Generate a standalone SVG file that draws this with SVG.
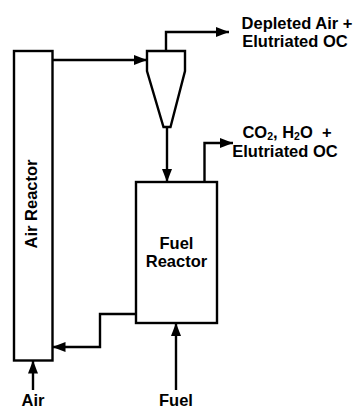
<svg xmlns="http://www.w3.org/2000/svg" width="360" height="408" viewBox="0 0 360 408">
<style>
.box{fill:#fff;stroke:#000;stroke-width:2.4;stroke-linejoin:miter}
.ln{fill:none;stroke:#000;stroke-width:2.4}
.t{font-family:"Liberation Sans",Arial,sans-serif;font-weight:bold;font-size:16.5px;fill:#000;text-anchor:middle}
.sub{font-size:10.5px}
</style>
<defs>
<marker id="ah" markerUnits="userSpaceOnUse" markerWidth="13" markerHeight="10" refX="13" refY="5" orient="auto">
<path d="M0,0 L13,5 L0,10 z" fill="#000"/>
</marker>
</defs>
<rect width="360" height="408" fill="#fff"/>
<g id="air-reactor">
<rect class="box" x="14" y="51" width="38.5" height="309.5"/>
<text class="t" transform="translate(37,204) rotate(-90)">Air Reactor</text>
</g>
<g id="cyclone">
<path class="box" d="M147,51 L185,51 L185,71 L170.5,127 L163.5,127 L147,71 Z"/>
</g>
<g id="fuel-reactor">
<rect class="box" x="136" y="182" width="81" height="141"/>
<text class="t" x="176.5" y="249">Fuel</text>
<text class="t" x="176.5" y="267">Reactor</text>
</g>
<g id="labels">
<text class="t" x="297" y="29">Depleted Air +</text>
<text class="t" x="295" y="47">Elutriated OC</text>
<text class="t" x="287" y="138" style="white-space:pre">CO<tspan class="sub" dy="2">2</tspan><tspan dy="-2">, H</tspan><tspan class="sub" dy="2">2</tspan><tspan dy="-2">O  +</tspan></text>
<text class="t" x="285" y="157">Elutriated OC</text>
<text class="t" x="33" y="406">Air</text>
<text class="t" x="176" y="406">Fuel</text>
</g>
<g id="connectors">
<path class="ln" d="M52.5,60 L147,60" marker-end="url(#ah)"/>
<path class="ln" d="M166,51 L166,32 L229,32" marker-end="url(#ah)"/>
<path class="ln" d="M167,127 L167,182" marker-end="url(#ah)"/>
<path class="ln" d="M204.5,182 L204.5,143 L233,143" marker-end="url(#ah)"/>
<path class="ln" d="M136,314 L100,314 L100,347 L52.5,347" marker-end="url(#ah)"/>
<path class="ln" d="M33,390 L33,360.5" marker-end="url(#ah)"/>
<path class="ln" d="M176,390 L176,323" marker-end="url(#ah)"/>
</g>
</svg>
